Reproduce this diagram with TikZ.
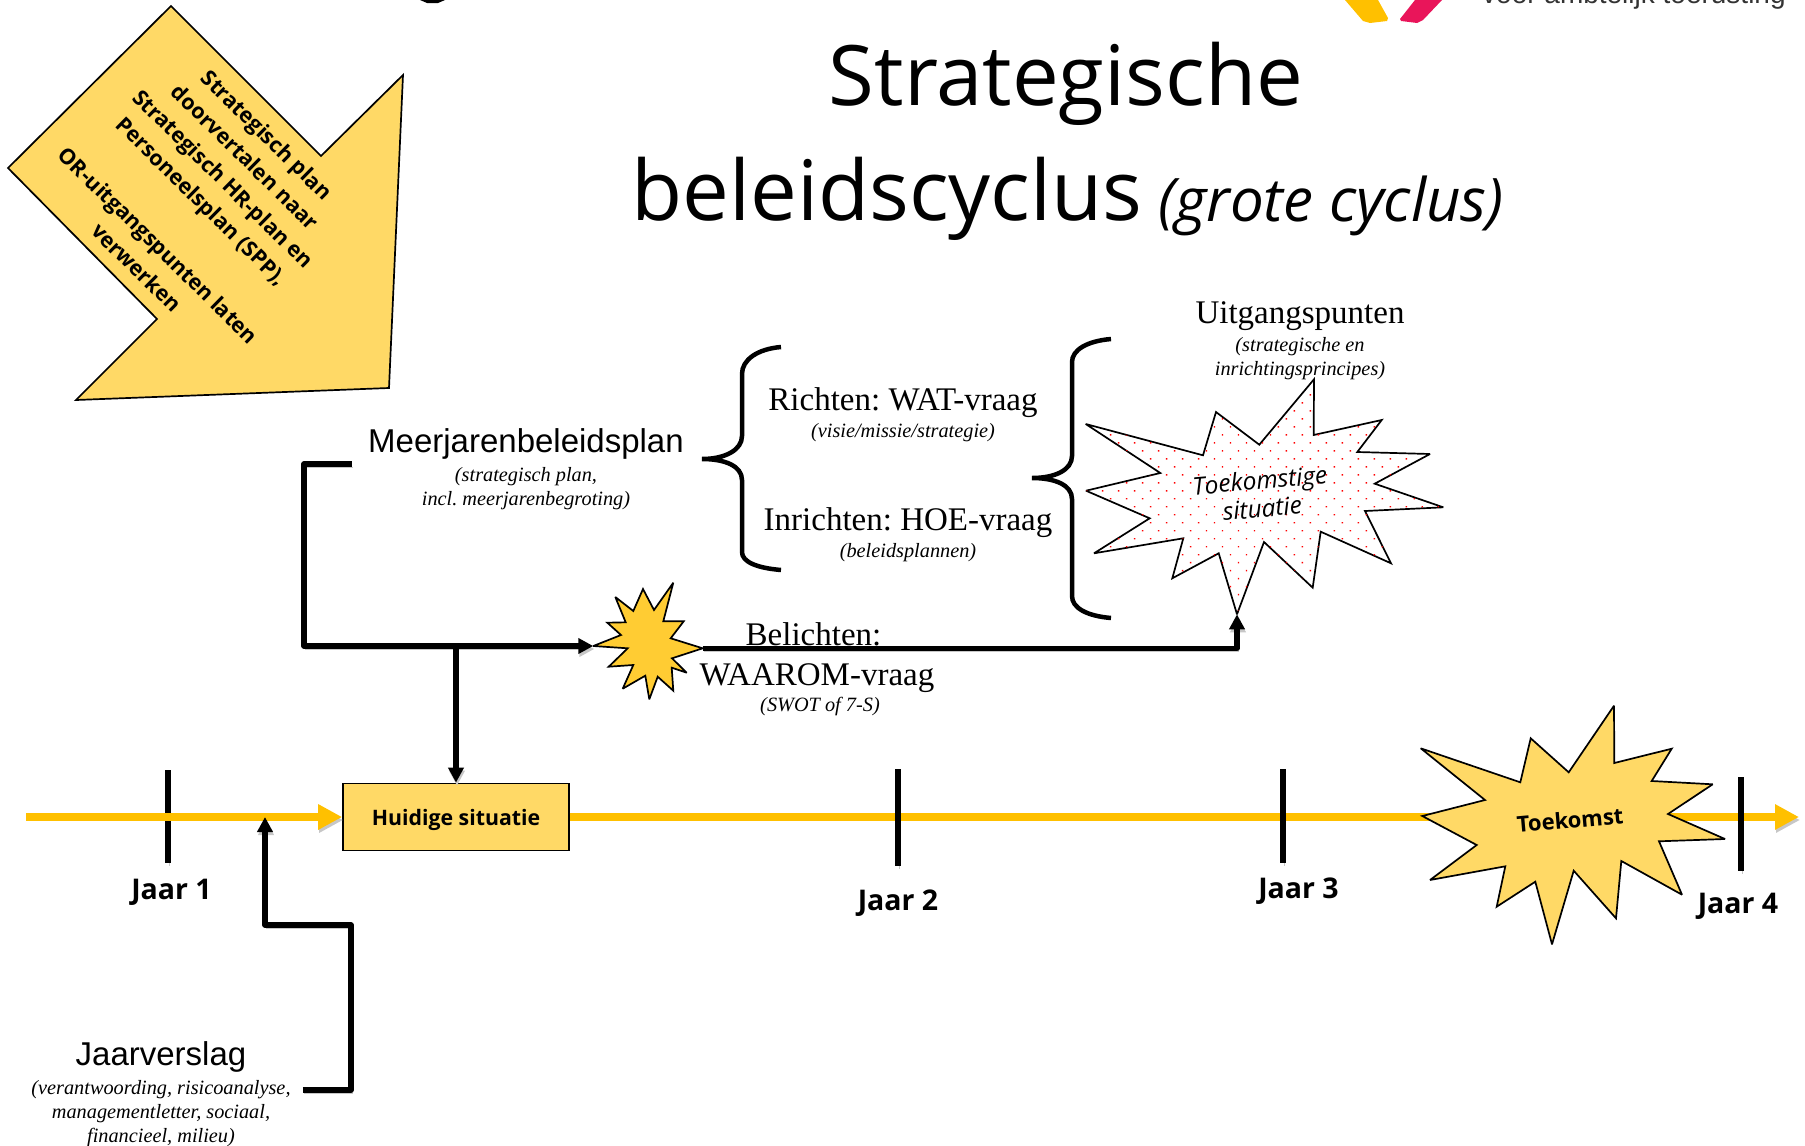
\documentclass[tikz,border=0pt]{standalone}
\usepackage{fontspec}
\setmainfont{Liberation Serif}
\newfontfamily\opensans{Open Sans}
\newfontfamily\arial{Liberation Sans}
\usepackage{tikz}
\usetikzlibrary{arrows.meta}
\usetikzlibrary{patterns.meta}
\newcommand{\sub}[1]{{\rmfamily\fontsize{20.3}{24}\selectfont\itshape #1}}
\newcommand{\hoofd}[1]{{\fontsize{33}{24}\selectfont #1}}
\frenchspacing

\begin{document}
\begin{tikzpicture}[x=1pt,y=-1pt]
    \definecolor{my_amber}{HTML}{FFC000}
    \definecolor{my_sand}{HTML}{FFD966}
    \definecolor{my_gold}{HTML}{FFCC33}
    \definecolor{my_pink}{HTML}{E9155A}
    \tikzstyle{every node}=[inner sep = 0pt, align = center]
    \tikzstyle{schaduw}=[preaction = {draw, black!22, transform canvas = {xshift = 1pt, yshift = -3pt}}]
    \tikzstyle{tijdlijn}=[my_amber, line width = 8.3pt, schaduw]
    \tikzstyle{verbinding}=[black, line width = 5.5pt, line join = round, schaduw]
    \tikzstyle{pijl}=[-{Triangle[length = 15pt, width = 15pt]}]
    \tikzstyle{geelpijl}=[-{Triangle[length = 24pt, width = 24pt]}]
    \tikzstyle{streep}=[black, line width = 5.6pt, schaduw]
    \tikzstyle{jaar}=[font = \opensans\bfseries\fontsize{28.5}{32}\selectfont]
    \tikzstyle{kop}=[font = \fontsize{24}{24}\selectfont]
    \tikzstyle{rand}=[black, line width = 1.7pt, line join = miter, miter limit = 3]
    \tikzstyle{accolade}=[black, line width = 4.5pt]
    \useasboundingbox (0,0) rectangle (1805,1146);

    % logo and title
    \fill[my_amber] (1345,0) -- (1378,0) -- (1388,18) -- (1387,21) -- (1370,23) -- (1363,21) -- cycle;
    \fill[my_pink] (1415,0) -- (1442,0) -- (1423,20) -- (1417,23) -- (1401,21) -- (1400,19) -- cycle;
    \fill[black] (420,0) -- (445,0) -- (438,3) -- (427,3) -- cycle;
    \node[anchor = base west, font = \arial\fontsize{28}{32}\selectfont, text = black!80] (logotekst) at (1482,3) {voor ambtelijk toerusting};
    \node[anchor = base, font = \opensans\fontsize{83.4}{100}\selectfont] (titel1) at (1066,105) {Strategische};
    \node[anchor = base west, font = \opensans\fontsize{83.4}{100}\selectfont] (titel2) at (631,220) {beleidscyclus};
    \node[anchor = base west, font = \opensans\itshape\fontsize{60}{70}\selectfont] (titel3) at (1158,221) {(grote cyclus)};

    % big arrow top left
    \draw[rand, fill = my_sand] (171,6) -- (321,156) -- (403,75) -- (389,388) -- (76,400) -- (157,319) -- (8,168) -- cycle;
    \node[rotate = -44.5, font = \opensans\bfseries\fontsize{21.5}{31}\selectfont] (opdracht) at (202,201) {Strategisch plan\\doorvertalen naar\\Strategisch HR-plan en\\Personeelsplan (SPP),\\[31pt]OR-uitgangspunten laten\\verwerken};

    % timeline
    \coordinate (start) at (26,817);
    \coordinate (eind) at (1799,817);
    \coordinate (toekomst_w) at (1440,817);
    \coordinate (toekomst_o) at (1650,817);
    \coordinate (lijn_jv) at (265,817);
    \draw[streep] (168,770) -- (168,863);
    \node[draw, rand, fill = my_sand, minimum width = 226pt, minimum height = 67pt, text height = 18pt, text depth = 2pt, font = \opensans\bfseries\fontsize{21.3}{26}\selectfont] (huidig) at (456,817) {Huidige situatie};
    \draw[tijdlijn, geelpijl] (start) -- (huidig.west);
    \draw[tijdlijn] (huidig.east) -- (toekomst_w);
    \draw[tijdlijn, geelpijl] (toekomst_o) -- (eind);
    \foreach \x/\boven/\onder in {898/769/866, 1283/769/863, 1741/777/871}
        \draw[streep] (\x,\boven) -- (\x,\onder);
    \node[jaar] (jaar1) at (171.5,892) {Jaar 1};
    \node[jaar] (jaar2) at (898,903) {Jaar 2};
    \node[jaar] (jaar3) at (1298.5,891) {Jaar 3};
    \node[jaar] (jaar4) at (1738,906) {Jaar 4};

    % toekomst burst
    \draw[rand, fill = my_sand] (1420.7,748.3) -- (1520.3,782.3) -- (1530.7,738.3) -- (1568.7,772.3) -- (1614,705.7) -- (1614.3,763) -- (1671.7,748.7) -- (1651.7,781) -- (1712.7,784.3) -- (1668,814) -- (1725,839) -- (1659,841.3) -- (1682,894.7) -- (1621.3,861) -- (1616,918.3) -- (1573.7,870.7) -- (1552,944.3) -- (1535.3,881.7) -- (1496.7,906.7) -- (1505.3,866.3) -- (1430,880) -- (1476.7,845) -- (1422.3,816) -- (1485,800) -- cycle;
    \node[rotate = 5, font = \opensans\bfseries\fontsize{22}{26}\selectfont] (toekomst) at (1570,820) {Toekomst};

    % toekomstige situatie burst
    \coordinate (situatie_z) at (1237,614.3);
    \draw[rand, fill = white] (1085.7,424) -- (1203,455.3) -- (1216,412) -- (1259.3,444.7) -- (1314,379.3) -- (1313.7,435) -- (1381.7,420) -- (1357.3,452) -- (1430,454) -- (1374.7,483.7) -- (1443.3,507.3) -- (1365,511) -- (1391,563.3) -- (1320.7,531.7) -- (1312.7,587.7) -- (1264,542) -- (situatie_z) -- (1218.7,553.3) -- (1172.3,578.3) -- (1183.3,538.3) -- (1094,553.3) -- (1149.7,518.3) -- (1086,490.7) -- (1160.3,473) -- cycle;
    \path[pattern = {Dots[radius = 1pt, distance = 11.3pt, angle = 45]}, pattern color = red] (1085.7,424) -- (1203,455.3) -- (1216,412) -- (1259.3,444.7) -- (1314,379.3) -- (1313.7,435) -- (1381.7,420) -- (1357.3,452) -- (1430,454) -- (1374.7,483.7) -- (1443.3,507.3) -- (1365,511) -- (1391,563.3) -- (1320.7,531.7) -- (1312.7,587.7) -- (1264,542) -- (situatie_z) -- (1218.7,553.3) -- (1172.3,578.3) -- (1183.3,538.3) -- (1094,553.3) -- (1149.7,518.3) -- (1086,490.7) -- (1160.3,473) -- cycle;
    \node[rotate = 5, font = \opensans\itshape\fontsize{24.5}{28}\selectfont] (toekomstig) at (1261,494) {Toekomstige\\situatie};

    % small burst
    \coordinate (belicht_w) at (593.3,646);
    \coordinate (belicht_o) at (702.7,648.3);
    \draw[rand, fill = my_gold] (belicht_w) -- (621,635) -- (607.3,622.7) -- (625.7,622.3) -- (615.3,597) -- (633.3,611) -- (643,589) -- (654,610) -- (673.3,582.7) -- (663.3,621.3) -- (683.7,621.3) -- (670.7,638.3) -- (belicht_o) -- (672,658.3) -- (686.7,672.7) -- (671.7,667.7) -- (673.3,690.7) -- (657.7,676.7) -- (649.3,699.3) -- (645.3,675.7) -- (622.7,688.7) -- (633.3,665) -- (608.7,666.7) -- (627.7,648.3) -- cycle;

    % texts
    \node[font = \arial\fontsize{24}{24}\selectfont, inner xsep = 16pt] (meerjaren) at (526,469) {\hoofd{Meerjarenbeleidsplan}\\[5pt]\sub{(strategisch plan,}\\\sub{incl. meerjarenbegroting)}};
    \node[font = \arial\fontsize{24}{24}\selectfont, inner xsep = 12pt] (jaarverslag) at (161,1094.5) {\hoofd{Jaarverslag}\\[5pt]\sub{(verantwoording, risicoanalyse,}\\\sub{managementletter, sociaal,}\\\sub{financieel, milieu)}};
    \node[kop] (richten) at (903,415) {\hoofd{Richten: WAT-vraag}\\[3pt]\sub{(visie/missie/strategie)}};
    \node[kop] (inrichten) at (908,534.5) {\hoofd{Inrichten: HOE-vraag}\\[3pt]\sub{(beleidsplannen)}};
    \node[kop] (uitgang) at (1300,340.5) {\hoofd{Uitgangspunten}\\[4pt]\sub{(strategische en}\\\sub{inrichtingsprincipes)}};
    \node[kop] (belichten) at (817,669) {\hoofd{Belichten:}\hspace*{7pt}\\[16pt]\hoofd{WAAROM-vraag}\\[2pt]\hspace*{6pt}\sub{(SWOT of 7-S)}};

    % braces
    \draw[accolade] (781,347) .. controls (757,349) and (742,360) .. (742,374) -- (742,436) .. controls (742,450) and (725,459) .. (702,459) .. controls (725,459) and (742,466) .. (742,480) -- (742,552) .. controls (742,562) and (757,568) .. (781,570);
    \draw[accolade] (1111,339) .. controls (1087,341) and (1072,350) .. (1072,362) -- (1072,456) .. controls (1072,470) and (1055,478) .. (1032,478) .. controls (1055,478) and (1072,485) .. (1072,499) -- (1072,596) .. controls (1072,608) and (1087,616) .. (1111,618);

    % connectors
    \coordinate (knik) at (456,646);
    \draw[verbinding, pijl] ([yshift = 5pt]meerjaren.west) -- (304,464) -- (304,646) -- (belicht_w);
    \draw[verbinding, pijl] (knik) -- (huidig.north);
    \draw[verbinding, pijl] (belicht_o) -| (situatie_z);
    \draw[verbinding, pijl] ([yshift = 4.5pt]jaarverslag.east) -- (351,1090) -- (351,925) -- (265,925) -- (lijn_jv);
\end{tikzpicture}
\end{document}
